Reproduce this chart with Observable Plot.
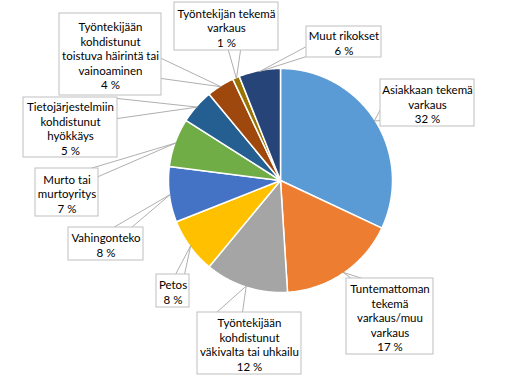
<!DOCTYPE html>
<html><head><meta charset="utf-8">
<script src="https://cdn.jsdelivr.net/npm/d3@7"></script>
<script src="https://cdn.jsdelivr.net/npm/@observablehq/plot@0.6"></script>
<style>body{margin:0;background:#fff}</style>
</head><body><div id="chart"></div>
<script>
// ---- data ----
const categories = [
  "Asiakkaan tekemä varkaus",
  "Tuntemattoman tekemä varkaus/muu varkaus",
  "Työntekijään kohdistunut väkivalta tai uhkailu",
  "Petos",
  "Vahingonteko",
  "Murto tai murtoyritys",
  "Tietojärjestelmiin kohdistunut hyökkäys",
  "Työntekijään kohdistunut toistuva häirintä tai vainoaminen",
  "Työntekijän tekemä varkaus",
  "Muut rikokset"
];
const values = [32, 17, 12, 8, 8, 7, 5, 4, 1, 6];
const labelLines = [
  ["Asiakkaan tekemä", "varkaus"],
  ["Tuntemattoman", "tekemä", "varkaus/muu", "varkaus"],
  ["Työntekijään", "kohdistunut", "väkivalta tai uhkailu"],
  ["Petos"],
  ["Vahingonteko"],
  ["Murto tai", "murtoyritys"],
  ["Tietojärjestelmiin", "kohdistunut", "hyökkäys"],
  ["Työntekijään", "kohdistunut", "toistuva häirintä tai", "vainoaminen"],
  ["Työntekijän tekemä", "varkaus"],
  ["Muut rikokset"]
];
const colors = ["#5B9BD5", "#ED7D31", "#A5A5A5", "#FFC000", "#4472C4", "#70AD47", "#255E91", "#9E480E", "#997300", "#264478"];

// ---- layout (label boxes and callout bases, in pixels) ----
const W = 531, H = 390;
const cx = 280, cy = 180, r = 112;
const boxes = [[380,79,474,126],[346,278,433,354],[197,312,301,374],[156,274,189,307],[68,227,143,260],[35,168,98,216],[23,97,117,157],[59,13,161,95],[174,2,278,50],[306,26,381,57]];
const bases = [[[380,109],[380,120]],[[351,278],[362,278]],[[216,312],[242,312]],[[175,274],[184,274]],[[113,227],[131,227]],[[90,168],[98,176]],[[117,98],[117,118]],[[161,58],[161,78]],[[228,50],[240,50]],[[306,46],[306,56]]];

// ---- pie geometry from the values ----
const total = d3.sum(values);
const pt = (a, rad) => [cx + rad * Math.sin(a), cy - rad * Math.cos(a)];
const slices = [];
const pointers = [];
let acc = 0;
values.forEach((v, i) => {
  const a0 = acc / total * 2 * Math.PI;
  const a1 = (acc + v) / total * 2 * Math.PI;
  acc += v;
  const n = Math.max(2, Math.ceil((a1 - a0) / (Math.PI / 360)));
  slices.push({cat: categories[i], x: cx, y: cy, k: 0});
  for (let j = 0; j <= n; j++) {
    const [x, y] = pt(a0 + (a1 - a0) * j / n, r);
    slices.push({cat: categories[i], x, y, k: j + 1});
  }
  slices.push({cat: categories[i], x: cx, y: cy, k: n + 2});
  const [tx, ty] = pt((a0 + a1) / 2, r - 1);
  const b = bases[i];
  pointers.push({cat: categories[i], x: b[0][0], y: b[0][1]});
  pointers.push({cat: categories[i], x: tx, y: ty});
  pointers.push({cat: categories[i], x: b[1][0], y: b[1][1]});
});
const labels = categories.map((c, i) => ({
  cat: c,
  x1: boxes[i][0], y1: boxes[i][1], x2: boxes[i][2], y2: boxes[i][3],
  text: labelLines[i].join("\n") + "\n" + values[i] + " %"
}));

const chart = Plot.plot({
  width: W, height: H,
  margin: 0,
  x: {domain: [0, W], range: [0, W], axis: null},
  y: {domain: [0, H], range: [0, H], axis: null},
  color: {domain: categories, range: colors},
  marks: [
    Plot.line(slices, {x: "x", y: "y", z: "cat", fill: "cat", stroke: "white", strokeWidth: 1.5, strokeLinejoin: "round", curve: "linear"}),
    Plot.line(pointers, {x: "x", y: "y", z: "cat", fill: "white", stroke: "#A6A6A6", strokeWidth: 0.9, curve: "linear"}),
    Plot.rect(labels, {x1: "x1", y1: "y1", x2: "x2", y2: "y2", fill: "white", stroke: "#BFBFBF", strokeWidth: 1}),
    Plot.text(labels, {x: d => (d.x1 + d.x2) / 2, y: d => (d.y1 + d.y2) / 2 + 1, text: "text", fontSize: 11.5, lineHeight: 1.26, fill: "#000", fontFamily: "Lato"})
  ]
});
document.getElementById("chart").appendChild(chart);
</script>
</body></html>
